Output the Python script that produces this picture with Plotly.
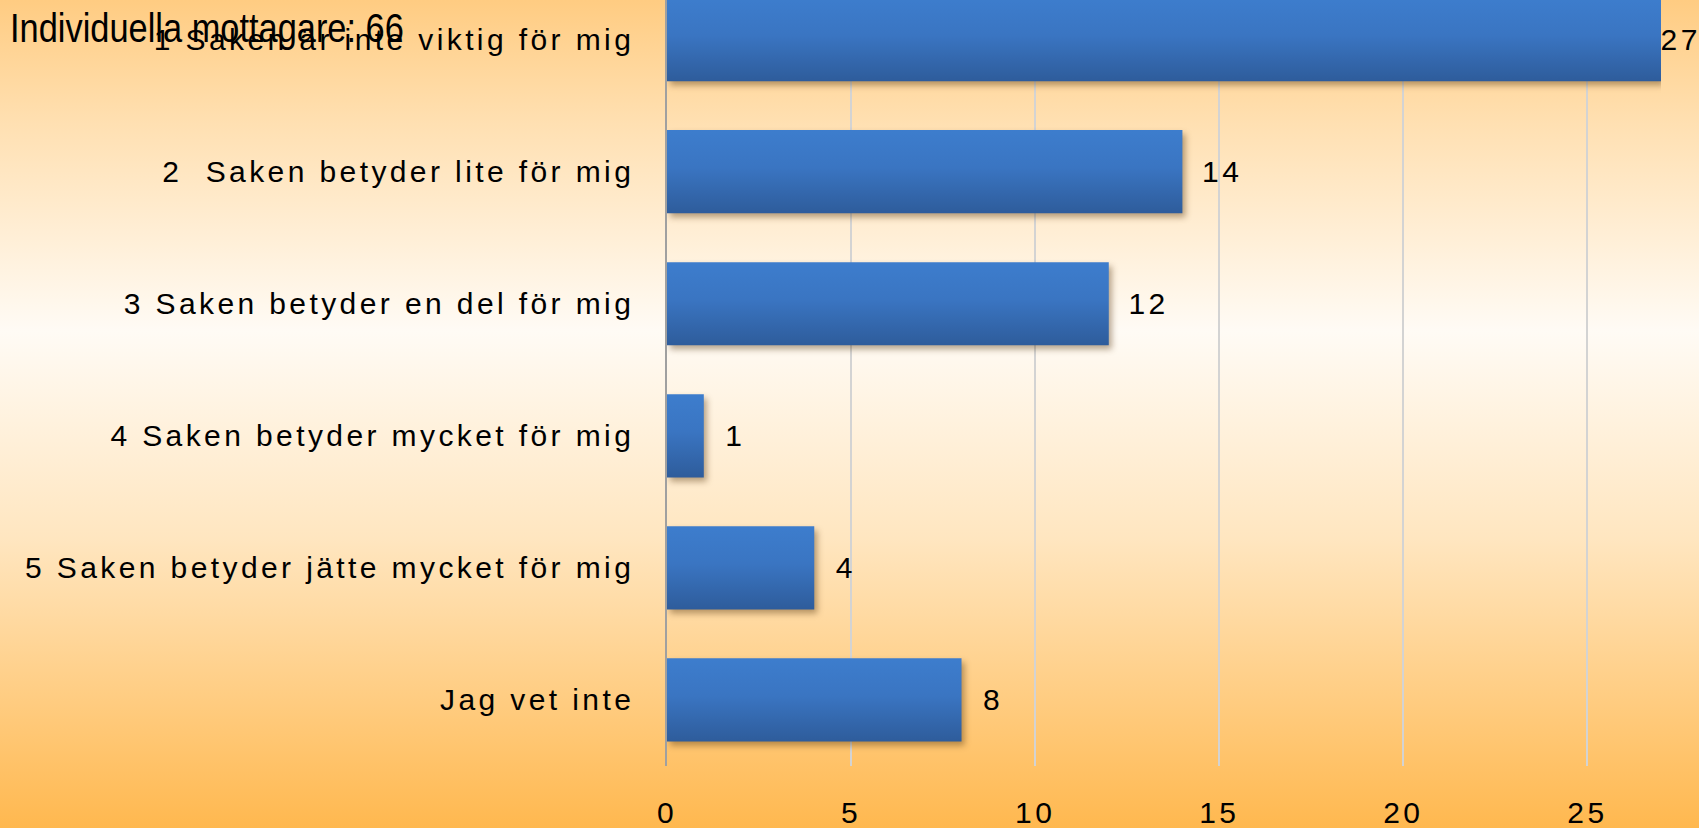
import base64
import plotly.graph_objects as go

# Survey answers (top to bottom as in the chart)
categories = ['1 Saken är inte viktig för mig',
              '2  Saken betyder lite för mig',
              '3 Saken betyder en del för mig',
              '4 Saken betyder mycket för mig',
              '5 Saken betyder jätte mycket för mig',
              'Jag vet inte']
counts = [27, 14, 12, 1, 4, 8]
x_ticks = [0, 5, 10, 15, 20, 25]
subtitle = 'Individuella mottagare: 66'

W, H = 1699, 828
ml, mr, mt, mb = 667, 38, 0, 62
FONT = 'Liberation Sans, Arial'

# Orange-white-orange background as an inline svg gradient
svg = ('<svg xmlns="http://www.w3.org/2000/svg" width="100" height="100" preserveAspectRatio="none">'
       '<defs><linearGradient id="g" x1="0" y1="0" x2="0" y2="1">'
       '<stop offset="0" stop-color="#FFCC82"/>'
       '<stop offset="0.15" stop-color="#FFE0B2"/>'
       '<stop offset="0.40" stop-color="#FFFBF5"/>'
       '<stop offset="0.65" stop-color="#FFE6C0"/>'
       '<stop offset="1" stop-color="#FFB84F"/>'
       '</linearGradient></defs>'
       '<rect width="100" height="100" fill="url(#g)"/></svg>')
bg = 'data:image/svg+xml;base64,' + base64.b64encode(svg.encode()).decode()

# longest bar's label sits right at the frame edge, the others get a gap
labels = [('' if c == max(counts) else '  ') + str(c) for c in counts]

fig = go.Figure(go.Bar(
    y=categories, x=counts, orientation='h',
    marker=dict(color='#376DB5', line=dict(width=0)),
    width=0.63,
    text=labels, textposition='outside',
    textfont=dict(size=30, color='black', family=FONT),
    cliponaxis=False,
))

pw = W - ml - mr
ph = H - mt - mb
fig.add_annotation(text=subtitle, xref='paper', yref='paper',
                   x=(8 - ml) / pw, y=1 - (28 - mt) / ph, align='left',
                   xanchor='left', yanchor='middle', showarrow=False,
                   font=dict(size=40, color='black', family=FONT))

fig.add_layout_image(dict(source=bg, xref='paper', yref='paper',
                          x=-ml / pw, y=1 + mt / ph, sizex=W / pw, sizey=H / ph,
                          xanchor='left', yanchor='top', sizing='stretch', layer='below'))

fig.update_yaxes(categoryorder='array', categoryarray=categories[::-1],
                 range=[-0.5, 5.3], showgrid=False, automargin=False,
                 showline=True, linecolor='#A0A0A0', linewidth=1.5,
                 ticks='', ticklabelstandoff=25,
                 tickfont=dict(size=30, color='black', family=FONT))
fig.update_xaxes(range=[0, 27], tickvals=x_ticks, showgrid=True, automargin=False,
                 gridcolor='#D3D3D3', gridwidth=1.5, zeroline=False,
                 showline=False, ticks='', ticklabelstandoff=26,
                 tickfont=dict(size=30, color='black', family=FONT))
fig.update_layout(width=W, height=H, margin=dict(l=ml, r=mr, t=mt, b=mb),
                  paper_bgcolor='#FFB84F', plot_bgcolor='rgba(0,0,0,0)',
                  showlegend=False)

# page margin off, spaced-out labels, narrow subtitle, gradient + shadow on the bars
post = """
document.documentElement.style.overflow = 'hidden';
document.body.style.overflow = 'hidden';
document.body.style.margin = '0';
document.body.style.background = '#FFB84F';
var gd = document.getElementById('{plot_id}');
gd.querySelectorAll('.ytick text, .xtick text, .bars text').forEach(function(t) {
    t.style.letterSpacing = '3.4px';
});
gd.querySelectorAll('.annotation-text').forEach(function(t) {
    t.style.transformBox = 'fill-box';
    t.style.transformOrigin = 'left center';
    t.style.transform = 'scaleX(0.86)';
});
var svg = gd.querySelector('svg.main-svg');
var ns = 'http://www.w3.org/2000/svg';
var defs = svg.querySelector('defs') || svg.insertBefore(document.createElementNS(ns, 'defs'), svg.firstChild);
var lg = document.createElementNS(ns, 'linearGradient');
lg.setAttribute('id', 'bargrad');
lg.setAttribute('x1', '0'); lg.setAttribute('y1', '0');
lg.setAttribute('x2', '0'); lg.setAttribute('y2', '1');
[['0', '#3D7DCD'], ['0.45', '#3A75C2'], ['1', '#2E5C9B']].forEach(function(s) {
    var st = document.createElementNS(ns, 'stop');
    st.setAttribute('offset', s[0]);
    st.setAttribute('stop-color', s[1]);
    lg.appendChild(st);
});
defs.appendChild(lg);
gd.querySelectorAll('.bars .point path').forEach(function(p) {
    p.style.fill = 'url(#bargrad)';
    p.style.filter = 'drop-shadow(3px 4px 3px rgba(90,60,20,0.45))';
});
"""

fig.write_html("out.html", post_script=post, config={'displayModeBar': False})
